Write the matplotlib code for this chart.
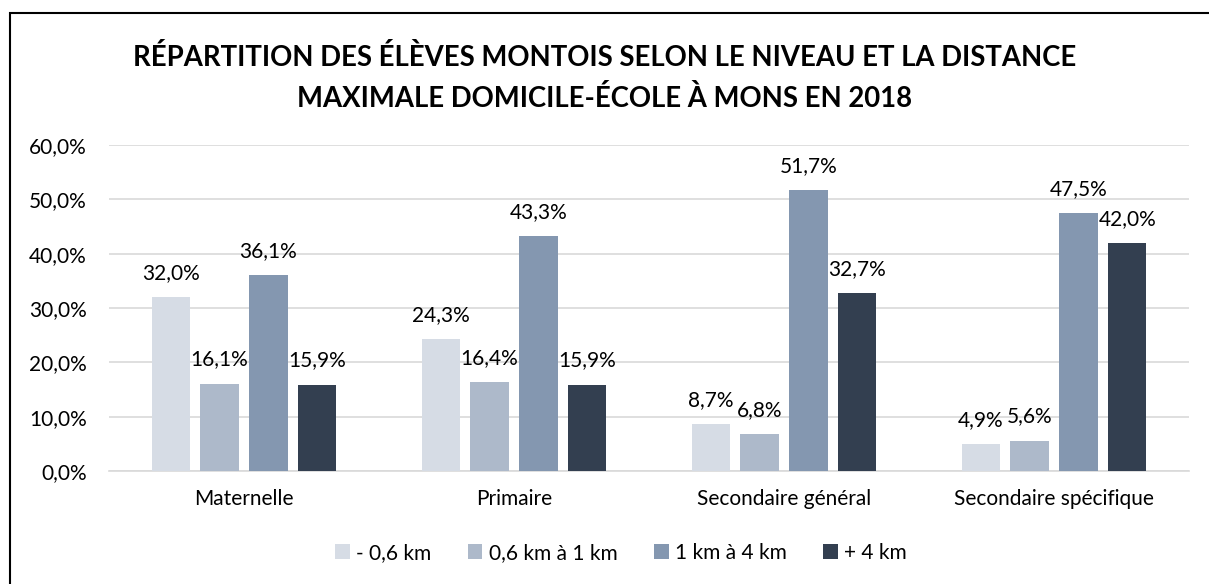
import matplotlib
matplotlib.use("Agg")
import matplotlib.pyplot as plt
from matplotlib.patches import Rectangle
import numpy as np

plt.rcParams['font.family'] = ['Lato', 'DejaVu Sans']

categories = ["Maternelle", "Primaire", "Secondaire général", "Secondaire spécifique"]
series_names = ["- 0,6 km", "0,6 km à 1 km", "1 km à 4 km", "+ 4 km"]
moins_06 = [32.0, 24.3, 8.7, 4.9]
de_06_a_1 = [16.1, 16.4, 6.8, 5.6]
de_1_a_4 = [36.1, 43.3, 51.7, 47.5]
plus_4 = [15.9, 15.9, 32.7, 42.0]
yticks = [0, 10, 20, 30, 40, 50, 60]

series = [moins_06, de_06_a_1, de_1_a_4, plus_4]
colors = ["#D6DCE5", "#ADB9CA", "#8497B0", "#333F50"]

fig = plt.figure(figsize=(12.09, 5.84), dpi=100)
ax = fig.add_axes([109/1209, 1 - 471/584, 1080/1209, 326/584])

x = np.arange(len(categories))
width = 0.141
offsets = [-0.272, -0.0907, 0.0907, 0.272]
fs = 15

for vals, off, col, name in zip(series, offsets, colors, series_names):
    bars = ax.bar(x + off, vals, width, color=col, label=name, zorder=3)
    for b, v in zip(bars, vals):
        ax.annotate(f"{v:.1f}%".replace(".", ","),
                    (b.get_x() + b.get_width() / 2, v),
                    xytext=(0, 13), textcoords="offset points",
                    ha="center", va="baseline", fontsize=fs, color="#000000", zorder=4)

ax.set_xlim(-0.5, len(categories) - 0.5)
ax.set_ylim(0, 60)
ax.set_yticks(yticks)
ax.set_yticklabels([f"{t:.1f}%".replace(".", ",") for t in yticks], fontsize=fs)
ax.set_xticks(x)
ax.set_xticklabels(categories, fontsize=fs)
ax.tick_params(axis="y", length=0, pad=16)
ax.tick_params(axis="x", length=0, pad=13)
ax.yaxis.grid(True, color="#D9D9D9", linewidth=1.2, zorder=0)
for s in ["top", "right", "left"]:
    ax.spines[s].set_visible(False)
ax.spines["bottom"].set_color("#D9D9D9")
ax.spines["bottom"].set_linewidth(1.2)

fig.text(0.5, 1 - 78/584,
         "RÉPARTITION DES ÉLÈVES MONTOIS SELON LE NIVEAU ET LA DISTANCE\nMAXIMALE DOMICILE-ÉCOLE À MONS EN 2018",
         ha="center", va="center", fontsize=19.8, fontweight="bold", linespacing=1.65)

leg = fig.legend(loc="center", bbox_to_anchor=(621/1209, 1 - 553/584), ncol=4, frameon=False,
                 fontsize=fs, handlelength=0.7, handleheight=0.7, handletextpad=0.3,
                 columnspacing=1.75)

fig.patches.append(Rectangle((10/1209, -0.05), 1.1, 1 - 13/584 + 0.05, transform=fig.transFigure,
                             fill=False, edgecolor="#000000", linewidth=1.5))

fig.savefig("out.png", dpi=100)
